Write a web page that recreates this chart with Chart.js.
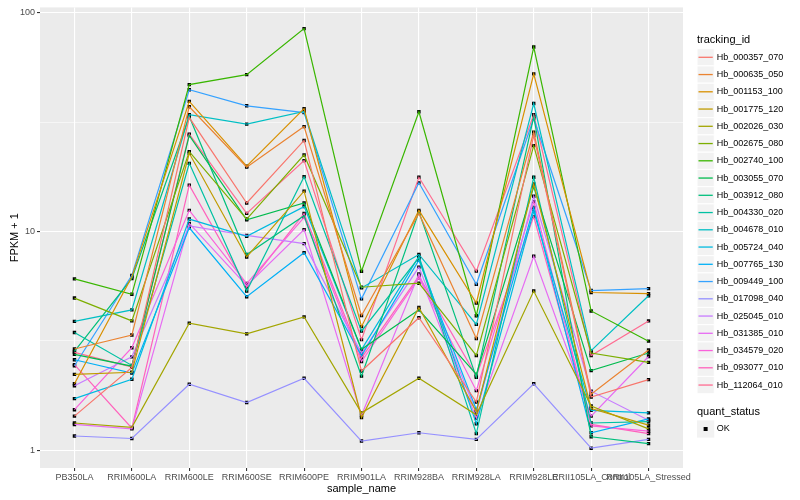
<!DOCTYPE html>
<html>
<head>
    <title>FPKM by sample</title>
    <script src="https://cdn.jsdelivr.net/npm/chart.js@4.4.0/dist/chart.umd.min.js"></script>
    <style>
        body { margin: 0; background: #fff; }
        #wrap { width: 800px; height: 500px; }
    </style>
</head>
<body>
    <div id="wrap"><canvas id="fpkm-chart" width="800" height="500"></canvas></div>

    <script>
        var sampleNames = ['PB350LA', 'RRIM600LA', 'RRIM600LE', 'RRIM600SE', 'RRIM600PE', 'RRIM901LA',
            'RRIM928BA', 'RRIM928LA', 'RRIM928LE', 'RRII105LA_Control', 'RRII105LA_Stressed'];

        var trackingIds = ['Hb_000357_070', 'Hb_000635_050', 'Hb_001153_100', 'Hb_001775_120', 'Hb_002026_030',
            'Hb_002675_080', 'Hb_002740_100', 'Hb_003055_070', 'Hb_003912_080', 'Hb_004330_020',
            'Hb_004678_010', 'Hb_005724_040', 'Hb_007765_130', 'Hb_009449_100', 'Hb_017098_040',
            'Hb_025045_010', 'Hb_031385_010', 'Hb_034579_020', 'Hb_093077_010', 'Hb_112064_010'];

        // FPKM + 1, one value per sample_name
        var hb_000357_070 = [1.43, 2.39, 33.2, 13.5, 26.1, 2.30, 4.03, 1.66, 27.5, 1.75, 2.10];
        var hb_000635_050 = [2.90, 3.36, 37.2, 19.7, 30.2, 4.13, 12.1, 3.24, 28.5, 1.80, 2.87];
        var hb_001153_100 = [2.01, 6.2, 39.4, 19.9, 36.5, 3.67, 12.5, 4.71, 52.6, 5.26, 5.20];
        var hb_001775_120 = [2.22, 2.27, 22.8, 7.65, 15.3, 1.41, 4.49, 1.50, 16.5, 1.55, 1.30];
        var hb_002026_030 = [1.33, 1.27, 3.81, 3.40, 4.07, 1.48, 2.13, 1.45, 5.34, 1.59, 1.25];
        var hb_002675_080 = [4.96, 3.90, 23.2, 11.4, 22.4, 5.56, 5.80, 2.71, 24.7, 2.78, 2.52];
        var hb_002740_100 = [6.07, 5.16, 47.0, 52.2, 84.8, 6.58, 35.3, 4.12, 69.8, 4.33, 3.15];
        var hb_003055_070 = [2.74, 2.42, 27.5, 11.3, 13.5, 2.89, 4.38, 2.22, 16.0, 2.31, 2.78];
        var hb_003912_080 = [2.83, 6.1, 33.6, 7.85, 11.8, 2.18, 12.3, 2.15, 33.5, 1.15, 1.07];
        var hb_004330_020 = [3.45, 2.44, 20.5, 5.34, 17.8, 3.50, 7.6, 1.19, 17.7, 1.33, 1.35];
        var hb_004678_010 = [3.88, 4.38, 34.2, 31.0, 35.4, 5.52, 7.85, 3.76, 38.5, 2.85, 5.08];
        var hb_005724_040 = [1.72, 2.11, 11.4, 9.5, 13.0, 2.88, 7.7, 1.32, 12.4, 1.52, 1.48];
        var hb_007765_130 = [2.59, 2.25, 10.4, 5.03, 8.0, 2.70, 7.39, 1.53, 12.9, 1.20, 1.39];
        var hb_009449_100 = [2.43, 6.3, 44.5, 37.6, 35.0, 4.92, 16.7, 5.74, 32.9, 5.37, 5.48];
        var hb_017098_040 = [1.16, 1.13, 2.0, 1.65, 2.13, 1.10, 1.20, 1.12, 2.01, 1.02, 1.12];
        var hb_025045_010 = [1.97, 2.67, 10.6, 9.6, 8.8, 2.77, 6.87, 1.48, 14.5, 1.86, 1.37];
        var hb_031385_010 = [1.31, 1.25, 10.9, 5.65, 10.2, 1.44, 6.4, 1.40, 7.7, 1.43, 2.68];
        var hb_034579_020 = [1.53, 2.94, 12.5, 5.78, 11.6, 2.54, 6.14, 1.87, 13.7, 1.29, 1.22];
        var hb_093077_010 = [2.46, 1.26, 16.3, 5.57, 12.1, 2.64, 6.25, 2.18, 11.7, 1.31, 1.19];
        var hb_112064_010 = [2.80, 2.40, 27.9, 12.1, 21.1, 3.20, 17.7, 6.59, 34.2, 2.71, 3.90];

        var seriesValues = [hb_000357_070, hb_000635_050, hb_001153_100, hb_001775_120, hb_002026_030,
            hb_002675_080, hb_002740_100, hb_003055_070, hb_003912_080, hb_004330_020,
            hb_004678_010, hb_005724_040, hb_007765_130, hb_009449_100, hb_017098_040,
            hb_025045_010, hb_031385_010, hb_034579_020, hb_093077_010, hb_112064_010];

        var yMajor = [1, 10, 100];
        var yMinor = [3.1623, 31.623];

        // ggplot2 default hue palette, 20 levels
        var hueColors = ['#F8766D', '#EA8331', '#D89000', '#C09B00', '#A3A500', '#7CAE00', '#39B600',
            '#00BB4E', '#00BF7D', '#00C1A3', '#00BFC4', '#00BAE0', '#00B0F6', '#35A2FF', '#9590FF',
            '#C77CFF', '#E76BF3', '#FA62DB', '#FF62BC', '#FF6C91'];

        var FONT = '"Liberation Sans", Arial, Helvetica, sans-serif';

        var datasets = seriesValues.map(function(vals, k) {
            return {
                label: trackingIds[k],
                data: vals.map(function(v, i) { return { x: i, y: v }; }),
                borderColor: hueColors[k],
                borderWidth: 1.2,
                pointRadius: 0,
                fill: false,
                tension: 0
            };
        });

        // all points go on top of all lines, like geom_point after geom_line
        var allPoints = [];
        seriesValues.forEach(function(vals) {
            vals.forEach(function(v, i) { allPoints.push({ x: i, y: v }); });
        });
        datasets.push({
            label: 'OK',
            data: allPoints,
            showLine: false,
            pointStyle: 'rect',
            pointRadius: 2.4,
            pointBackgroundColor: '#000',
            pointBorderWidth: 0
        });

        function isMajor(v) { return yMajor.indexOf(v) >= 0; }

        var panelPlugin = {
            id: 'panelBg',
            beforeDraw: function(chart) {
                var a = chart.chartArea, ctx = chart.ctx;
                ctx.save();
                ctx.fillStyle = '#EBEBEB';
                ctx.fillRect(a.left, a.top, a.right - a.left, a.bottom - a.top);
                ctx.restore();
            }
        };

        var legendPlugin = {
            id: 'ggLegend',
            afterDraw: function(chart) {
                var ctx = chart.ctx;
                var x0 = 697, size = 17.25;
                ctx.save();
                ctx.textBaseline = 'middle';
                ctx.textAlign = 'left';
                ctx.fillStyle = '#000';
                ctx.font = '11px ' + FONT;
                ctx.fillText('tracking_id', x0, 40);
                ctx.font = '9px ' + FONT;
                trackingIds.forEach(function(id, i) {
                    var cy = 57.3 + i * size;
                    ctx.fillStyle = '#F2F2F2';
                    ctx.fillRect(x0, cy - size / 2, size, size);
                    ctx.strokeStyle = '#fff';
                    ctx.lineWidth = 1;
                    ctx.strokeRect(x0, cy - size / 2, size, size);
                    ctx.strokeStyle = hueColors[i];
                    ctx.lineWidth = 1.3;
                    ctx.beginPath();
                    ctx.moveTo(x0 + 1.5, cy);
                    ctx.lineTo(x0 + size - 1.5, cy);
                    ctx.stroke();
                    ctx.fillStyle = '#000';
                    ctx.fillText(id, x0 + size + 2.5, cy);
                });
                ctx.font = '11px ' + FONT;
                ctx.fillText('quant_status', x0, 412);
                var oy = 429;
                ctx.fillStyle = '#F2F2F2';
                ctx.fillRect(x0, oy - size / 2, size, size);
                ctx.fillStyle = '#000';
                ctx.fillRect(x0 + size / 2 - 2, oy - 2, 4, 4);
                ctx.font = '9px ' + FONT;
                ctx.fillText('OK', x0 + size + 2.5, oy);
                ctx.restore();
            }
        };

        var ctx = document.getElementById('fpkm-chart').getContext('2d');
        var fpkmChart = new Chart(ctx, {
            type: 'line',
            data: { datasets: datasets },
            plugins: [panelPlugin, legendPlugin],
            options: {
                responsive: false,
                animation: false,
                layout: { padding: { left: 0, right: 117, top: 5, bottom: 0 } },
                plugins: {
                    legend: { display: false },
                    tooltip: { enabled: false }
                },
                scales: {
                    x: {
                        type: 'linear',
                        min: -0.6,
                        max: 10.6,
                        afterBuildTicks: function(scale) {
                            scale.ticks = sampleNames.map(function(n, i) { return { value: i }; });
                        },
                        afterFit: function(scale) { scale.height = 32; },
                        ticks: {
                            autoSkip: false,
                            maxRotation: 0,
                            padding: 1,
                            color: '#4D4D4D',
                            font: { family: FONT, size: 9 },
                            callback: function(v) { return sampleNames[v]; }
                        },
                        grid: { color: '#fff', lineWidth: 1.1, tickLength: 3, tickColor: '#333' },
                        border: { display: false },
                        title: {
                            display: true,
                            text: 'sample_name',
                            color: '#000',
                            font: { family: FONT, size: 11 },
                            padding: { top: 0, bottom: 4 }
                        }
                    },
                    y: {
                        type: 'logarithmic',
                        min: 0.828,
                        max: 106,
                        afterBuildTicks: function(scale) {
                            scale.ticks = yMajor.concat(yMinor).sort(function(a, b) { return a - b; })
                                .map(function(v) { return { value: v }; });
                        },
                        afterFit: function(scale) { scale.width = 40; },
                        ticks: {
                            color: '#4D4D4D',
                            padding: 2,
                            font: { family: FONT, size: 9 },
                            callback: function(v) { return isMajor(v) ? String(v) : ''; }
                        },
                        grid: {
                            color: '#fff',
                            lineWidth: function(c) { return c.tick && isMajor(c.tick.value) ? 1.1 : 0.55; },
                            tickLength: 3,
                            tickColor: function(c) { return c.tick && isMajor(c.tick.value) ? '#333' : 'rgba(0,0,0,0)'; }
                        },
                        border: { display: false },
                        title: {
                            display: true,
                            text: 'FPKM + 1',
                            color: '#000',
                            font: { family: FONT, size: 11 },
                            padding: { top: 8, bottom: 2 }
                        }
                    }
                }
            }
        });
    </script>
</body>
</html>
